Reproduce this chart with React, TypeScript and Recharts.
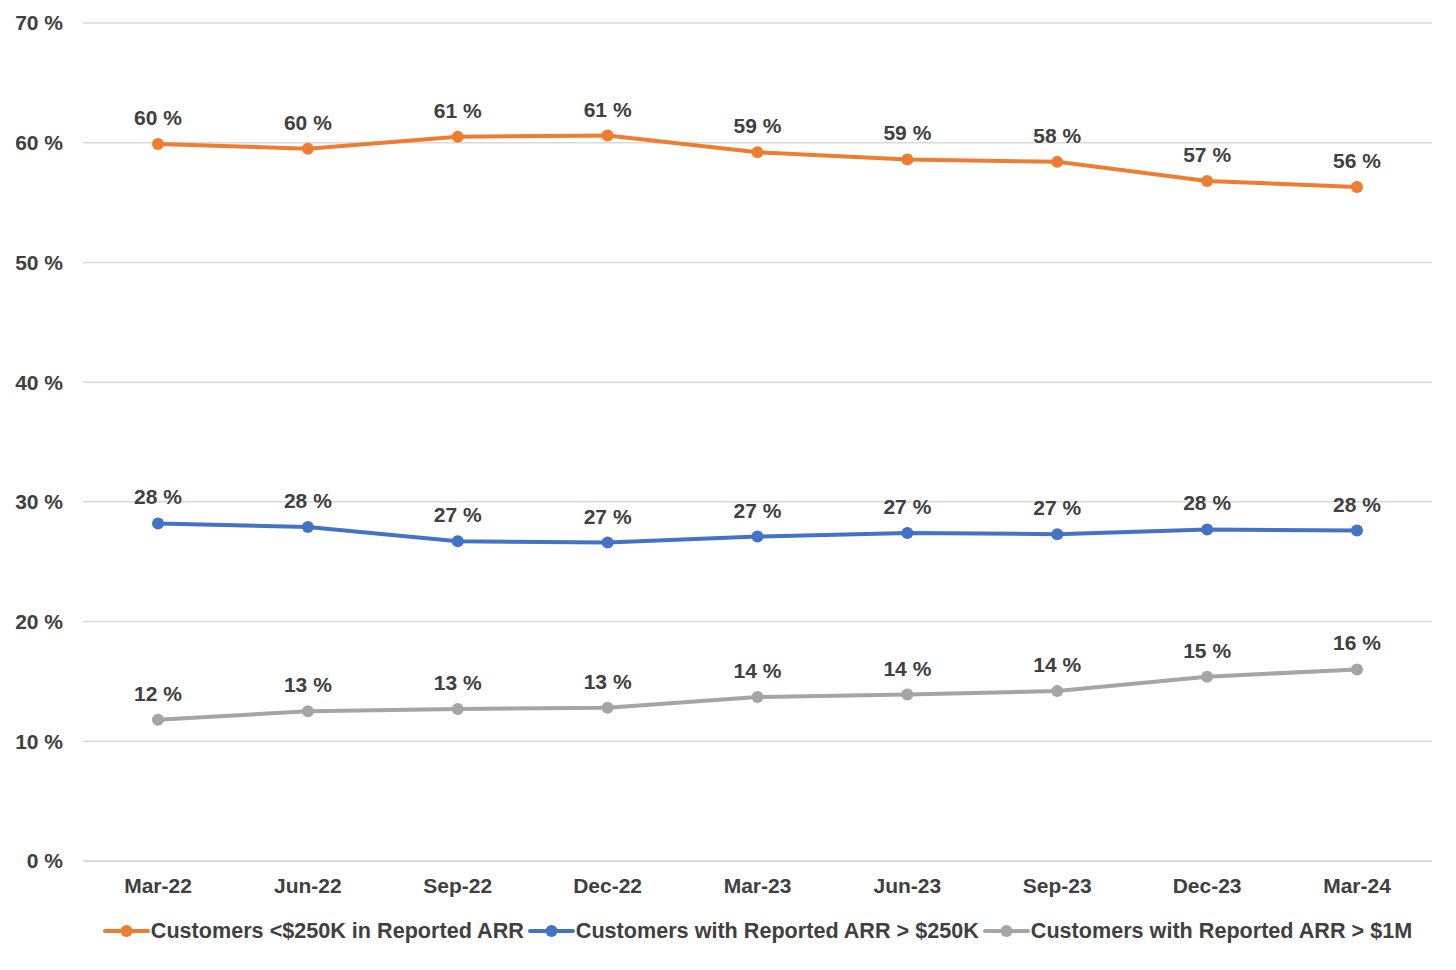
import { LineChart, Line, XAxis, YAxis, CartesianGrid, Legend, LabelList } from "recharts";

const quarters = ["Mar-22", "Jun-22", "Sep-22", "Dec-22", "Mar-23", "Jun-23", "Sep-23", "Dec-23", "Mar-24"];
const under250k = [59.9, 59.5, 60.5, 60.6, 59.2, 58.6, 58.4, 56.8, 56.3];
const over250k = [28.2, 27.9, 26.7, 26.6, 27.1, 27.4, 27.3, 27.7, 27.6];
const over1m = [11.8, 12.5, 12.7, 12.8, 13.7, 13.9, 14.2, 15.4, 16.0];
const yTicks = [0, 10, 20, 30, 40, 50, 60, 70];

const series = [
  { key: "a", name: "Customers <$250K in Reported ARR", color: "#ED7D31" },
  { key: "b", name: "Customers with Reported ARR > $250K", color: "#4472C4" },
  { key: "c", name: "Customers with Reported ARR > $1M", color: "#A5A5A5" },
];

const data = quarters.map((q, i) => ({ q, a: under250k[i], b: over250k[i], c: over1m[i] }));

const FONT = '"Liberation Sans", Arial, sans-serif';
const TEXT = "#404040";

const LegendRow = () => (
  <div
    style={{
      display: "flex",
      justifyContent: "center",
      alignItems: "center",
      height: 64,
      paddingBottom: 14,
      boxSizing: "border-box",
      fontFamily: FONT,
      fontWeight: 700,
      fontSize: 21.6,
      color: TEXT,
      whiteSpace: "nowrap",
    }}
  >
    {series.map((s) => (
      <div key={s.key} style={{ display: "flex", alignItems: "center", marginRight: 4 }}>
        <svg width={47} height={14} style={{ marginRight: 1 }}>
          <line x1={2} y1={7} x2={45} y2={7} stroke={s.color} strokeWidth={4} strokeLinecap="round" />
          <circle cx={23.5} cy={7} r={6} fill={s.color} />
        </svg>
        <span>{s.name}</span>
      </div>
    ))}
  </div>
);

const App = () => {
  return (
    <div style={{ position: "absolute", left: 0, top: 0, background: "#fff" }}>
      <LineChart width={1456} height={970} data={data} margin={{ top: 23, right: 24, bottom: 0, left: 0 }}>
        <CartesianGrid vertical={false} stroke="#d9d9d9" strokeWidth={1.5} />
        <XAxis
          dataKey="q"
          height={45}
          padding={{ left: 75, right: 75 }}
          axisLine={{ stroke: "#d9d9d9", strokeWidth: 1.5 }}
          tickLine={false}
          tickMargin={11}
          tick={{ fill: TEXT, fontSize: 21, fontWeight: 700, fontFamily: FONT }}
        />
        <YAxis
          width={83}
          domain={[0, 70]}
          ticks={yTicks}
          axisLine={false}
          tickLine={false}
          tickMargin={14}
          tickFormatter={(v) => `${v} %`}
          tick={{ fill: TEXT, fontSize: 21, fontWeight: 700, fontFamily: FONT }}
        />
        <Legend
          verticalAlign="bottom"
          height={64}
          content={() => <LegendRow />}
          wrapperStyle={{ left: 83, width: 1353, bottom: 0 }}
        />
        {series.map((s) => (
          <Line
            key={s.key}
            dataKey={s.key}
            name={s.name}
            stroke={s.color}
            strokeWidth={4}
            dot={{ r: 6, fill: s.color, stroke: s.color, strokeWidth: 0 }}
            activeDot={false}
            isAnimationActive={false}
          >
            <LabelList
              dataKey={s.key}
              position="top"
              offset={19}
              formatter={(v: any) => `${Math.round(Number(v))} %`}
              style={{ fill: TEXT, fontSize: 21, fontWeight: 700, fontFamily: FONT }}
            />
          </Line>
        ))}
      </LineChart>
    </div>
  );
};

export default App;
